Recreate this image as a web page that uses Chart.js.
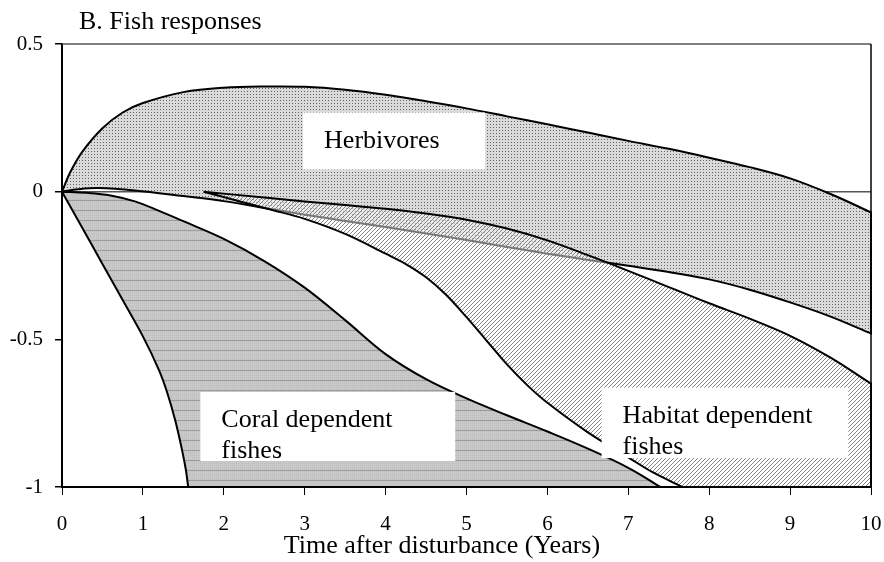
<!DOCTYPE html>
<html>
<head>
<meta charset="utf-8">
<script src="https://cdn.jsdelivr.net/npm/chart.js@4.4.1/dist/chart.umd.min.js"></script>
<style>
  html, body { margin: 0; padding: 0; background: #fff; }
</style>
</head>
<body>
<canvas id="fishChart" width="884" height="562"></canvas>
<script>
// values, [years, response]
const herbivoresTop = [
  [0, 0], [0.1, 0.065], [0.25, 0.135], [0.5, 0.215], [0.75, 0.268], [1, 0.3],
  [1.5, 0.337], [2, 0.352], [2.5, 0.356], [3, 0.355], [3.5, 0.345], [4, 0.328],
  [4.5, 0.306], [5, 0.282], [5.5, 0.255], [6, 0.228], [6.5, 0.2], [7, 0.172],
  [7.5, 0.145], [8, 0.115], [8.5, 0.083], [9, 0.045], [9.5, -0.008], [10, -0.07],
]
const herbivoresBottom = [
  [0, 0], [0.2, 0.008], [0.45, 0.012], [0.9, 0.004], [1.5, -0.015], [2, -0.032],
  [2.5, -0.055], [3, -0.078], [3.5, -0.099], [4, -0.12], [4.5, -0.142], [5, -0.164],
  [5.5, -0.187], [6, -0.21], [6.5, -0.231], [7, -0.251], [7.5, -0.272], [8, -0.297],
  [8.5, -0.332], [9, -0.375], [9.5, -0.423], [10, -0.48],
]
const habitatTop = [
  [1.75, 0], [2.5, -0.02], [3, -0.033], [3.5, -0.045], [4, -0.058], [4.5, -0.074],
  [5, -0.095], [5.5, -0.125], [6, -0.165], [6.5, -0.215], [7, -0.268], [7.5, -0.323],
  [8, -0.378], [8.5, -0.43], [9, -0.488], [9.5, -0.562], [10, -0.65],
]
const habitatBottom = [
  [1.75, 0], [2.2, -0.033], [2.6, -0.062], [3, -0.092], [3.5, -0.143], [4, -0.21],
  [4.25, -0.245], [4.5, -0.29], [4.75, -0.35], [5, -0.425], [5.25, -0.505],
  [5.5, -0.585], [5.75, -0.655], [6, -0.715], [6.5, -0.815], [7, -0.9],
  [7.3, -0.95], [7.67, -1],
]
const coralLeft = [
  [0, 0], [0.25, -0.122], [0.5, -0.245], [0.75, -0.367], [1, -0.49], [1.2, -0.605],
  [1.3, -0.68], [1.4, -0.775], [1.48, -0.87], [1.53, -0.94], [1.56, -1],
]
const coralRight = [
  [0, 0], [0.3, -0.004], [0.6, -0.013], [0.9, -0.033], [1.2, -0.065], [1.5, -0.1],
  [2, -0.16], [2.5, -0.235], [3, -0.325], [3.5, -0.435], [4, -0.55], [4.5, -0.635],
  [5, -0.7], [5.5, -0.757], [6, -0.812], [6.5, -0.87], [7, -0.935], [7.4, -1],
]
const xMin = 0, xMax = 10, yMin = -1, yMax = 0.5

const serif = "'Liberation Serif', 'Times New Roman', serif"

// outline of a closed area, curve ends doubled so the spline keeps its corners
const outline = (...curves) =>
  curves
    .flatMap((c) => [c[0], ...c, c[c.length - 1]])
    .map(([x, y]) => ({ x, y }))

function makePattern(w, h, paint) {
  const c = document.createElement('canvas')
  c.width = w
  c.height = h
  const g = c.getContext('2d')
  paint(g)
  return g.createPattern(c, 'repeat')
}

const dots = makePattern(3, 3, (g) => {
  g.fillStyle = '#dadada'
  g.fillRect(0, 0, 3, 3)
  g.fillStyle = '#646464'
  g.fillRect(1, 1, 1, 1)
})

const hatch = makePattern(4, 4, (g) => {
  g.fillStyle = 'rgba(255,255,255,0.45)'
  g.fillRect(0, 0, 4, 4)
  g.fillStyle = '#858585'
  for (let i = 0; i < 4; i++) g.fillRect(3 - i, i, 1, 1)
})

const stripes = makePattern(2, 10, (g) => {
  g.fillStyle = '#c9c9c9'
  g.fillRect(0, 0, 2, 10)
  g.fillStyle = '#bdbdbd'
  for (let y = 1; y < 10; y += 2) g.fillRect(0, y, 1, 1)
  g.fillStyle = '#9c9c9c'
  g.fillRect(0, 0, 2, 1)
})

const notes = [
  { x0: 2.98, x1: 5.23, y0: 0.268, y1: 0.075, lines: ['Herbivores'] },
  { x0: 1.71, x1: 4.86, y0: -0.678, y1: -0.912, lines: ['Coral dependent', 'fishes'] },
  { x0: 6.67, x1: 9.72, y0: -0.664, y1: -0.902, lines: ['Habitat dependent', 'fishes'] },
]

const paperDecor = {
  id: 'paperDecor',
  beforeDatasetsDraw(chart) {
    const { ctx, chartArea: a } = chart
    ctx.save()
    ctx.strokeStyle = '#555'
    ctx.lineWidth = 1.5
    ctx.beginPath()
    ctx.moveTo(a.left, a.top)
    ctx.lineTo(a.right, a.top)
    ctx.stroke()
    ctx.strokeStyle = '#000'
    ctx.beginPath()
    ctx.moveTo(a.right, a.top)
    ctx.lineTo(a.right, a.bottom)
    ctx.stroke()
    ctx.restore()
  },
  afterDatasetsDraw(chart) {
    const { ctx, scales } = chart
    ctx.save()
    ctx.font = '26px ' + serif
    ctx.textBaseline = 'alphabetic'
    ctx.textAlign = 'left'
    notes.forEach((n) => {
      const l = scales.x.getPixelForValue(n.x0)
      const r = scales.x.getPixelForValue(n.x1)
      const t = scales.y.getPixelForValue(n.y0)
      const b = scales.y.getPixelForValue(n.y1)
      ctx.fillStyle = '#fff'
      ctx.fillRect(l, t, r - l, b - t)
      ctx.fillStyle = '#000'
      n.lines.forEach((s, i) => ctx.fillText(s, l + 21, t + 35 + i * 31))
    })
    ctx.restore()
  },
  afterDraw(chart) {
    const { ctx } = chart
    ctx.save()
    ctx.fillStyle = '#000'
    ctx.font = '26px ' + serif
    ctx.textBaseline = 'alphabetic'
    ctx.textAlign = 'left'
    ctx.fillText('B. Fish responses', 79, 29)
    ctx.textAlign = 'center'
    ctx.fillText('Time after disturbance (Years)', 442, 553)
    ctx.restore()
  },
}

const area = (label, data, fillStyle) => ({
  label,
  data,
  showLine: true,
  fill: 'shape',
  backgroundColor: fillStyle,
  borderColor: '#000',
  borderWidth: 2,
  pointRadius: 0,
  tension: 0.35,
  clip: false,
})

new Chart(document.getElementById('fishChart'), {
  type: 'scatter',
  data: {
    datasets: [
      area('Habitat dependent fishes', outline(habitatTop, [[xMax, yMin]], [...habitatBottom].reverse()), hatch),
      area('Herbivores', outline(herbivoresTop, [...herbivoresBottom].reverse()), dots),
      area('Coral dependent fishes', outline(coralLeft, [...coralRight].reverse()), stripes),
    ],
  },
  options: {
    responsive: false,
    animation: false,
    layout: { padding: { top: 44, right: 13, bottom: 0, left: 0 } },
    plugins: {
      legend: { display: false },
      tooltip: { enabled: false },
    },
    scales: {
      x: {
        type: 'linear',
        min: xMin,
        max: xMax,
        border: { color: '#000', width: 2 },
        grid: { drawOnChartArea: false, tickLength: 8, tickColor: '#000' },
        ticks: { stepSize: 1, color: '#000', font: { family: serif, size: 21 }, padding: 17, maxRotation: 0 },
        afterFit: (s) => {
          s.height = 75
          s.paddingLeft = 0
          s.paddingRight = 0
        },
      },
      y: {
        min: yMin,
        max: yMax,
        border: { color: '#000', width: 2 },
        grid: {
          color: (c) => (c.tick && c.tick.value === 0 ? '#555' : 'rgba(0,0,0,0)'),
          lineWidth: 1.5,
          tickLength: 7,
          tickColor: '#000',
        },
        ticks: {
          stepSize: 0.5,
          color: '#000',
          font: { family: serif, size: 21 },
          padding: 12,
          callback: (v) => String(v),
        },
        afterFit: (s) => {
          s.width = 62
          s.paddingTop = 0
          s.paddingBottom = 0
        },
      },
    },
  },
  plugins: [paperDecor],
})
</script>
</body>
</html>
